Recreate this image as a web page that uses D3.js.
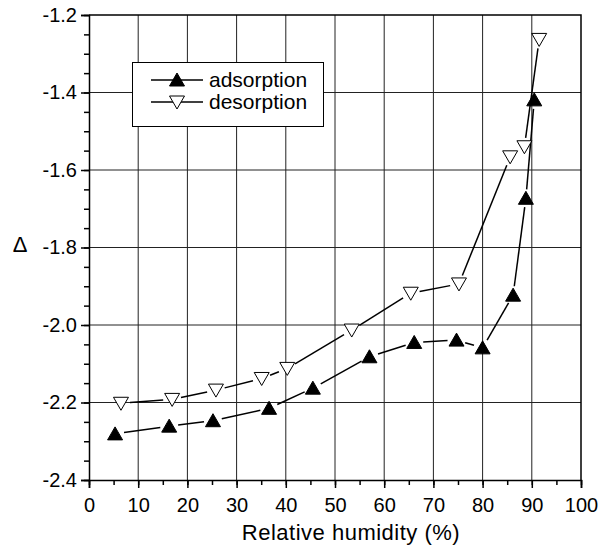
<!DOCTYPE html>
<html>
<head>
<meta charset="utf-8">
<script src="https://cdn.jsdelivr.net/npm/d3@7"></script>
<style>
  body { margin: 0; background: #fff; }
  text { font-family: "Liberation Sans", Arial, sans-serif; fill: #000; }
</style>
</head>
<body>
<div id="chart"></div>
<script>
// adsorption / desorption data
var adsX = [5.3, 16.3, 25.2, 36.6, 45.5, 57.0, 66.1, 74.7, 80.0, 86.2, 88.8, 90.5];
var adsY = [-2.281, -2.261, -2.247, -2.215, -2.163, -2.082, -2.045, -2.039, -2.059, -1.923, -1.673, -1.419];
var desX = [6.5, 16.9, 25.8, 35.1, 40.3, 53.4, 65.4, 75.2, 85.6, 88.5, 91.5];
var desY = [-2.202, -2.192, -2.168, -2.138, -2.112, -2.013, -1.918, -1.894, -1.566, -1.540, -1.263];
var xTicks = [0, 10, 20, 30, 40, 50, 60, 70, 80, 90, 100];
var yTicks = [-2.4, -2.2, -2.0, -1.8, -1.6, -1.4, -1.2];
var seriesNames = ["adsorption", "desorption"];

var width = 602, height = 549;
var margin = {left: 89, right: 21, top: 15, bottom: 69};

var svg = d3.select("#chart").append("svg")
  .attr("width", width)
  .attr("height", height);

var x = d3.scaleLinear().domain([0, 100]).range([margin.left, width - margin.right]);
var y = d3.scaleLinear().domain([-2.4, -1.2]).range([height - margin.bottom, margin.top]);

// grid
svg.append("g").selectAll("line.vx")
  .data(xTicks.slice(1, -1))
  .enter().append("line")
  .attr("x1", d => x(d)).attr("x2", d => x(d))
  .attr("y1", y(-2.4)).attr("y2", y(-1.2))
  .attr("stroke", "#222").attr("stroke-width", 1);
svg.append("g").selectAll("line.hy")
  .data(yTicks.slice(1, -1))
  .enter().append("line")
  .attr("y1", d => y(d)).attr("y2", d => y(d))
  .attr("x1", x(0)).attr("x2", x(100))
  .attr("stroke", "#222").attr("stroke-width", 1);

// axes
var xMinor = d3.range(0, 101, 5);
var yMinor = d3.range(-2.4, -1.19, 0.05);

svg.append("g")
  .attr("transform", "translate(0," + y(-2.4) + ")")
  .call(d3.axisBottom(x).tickValues(xTicks).tickSize(8).tickPadding(10).tickFormat(d3.format("d")));
svg.append("g")
  .attr("transform", "translate(0," + y(-2.4) + ")")
  .call(d3.axisBottom(x).tickValues(xMinor).tickSize(5).tickFormat(""))
  .select(".domain").remove();

svg.append("g")
  .attr("transform", "translate(" + x(0) + ",0)")
  .call(d3.axisLeft(y).tickValues(yTicks).tickSize(8).tickPadding(4).tickFormat(d3.format(".1f")));
svg.append("g")
  .attr("transform", "translate(" + x(0) + ",0)")
  .call(d3.axisLeft(y).tickValues(yMinor).tickSize(5).tickFormat(""))
  .select(".domain").remove();

svg.selectAll(".tick line").attr("stroke", "#000").attr("stroke-width", 1.5);
svg.selectAll(".domain").attr("stroke", "#000").attr("stroke-width", 1.5);
svg.selectAll(".tick text")
  .style("font-family", "'Liberation Sans', Arial, sans-serif")
  .style("font-size", "20px")
  .text(function(d) { return d3.select(this).text().replace("\u2212", "-"); });

// frame (top/right)
svg.append("path")
  .attr("d", "M" + x(0) + "," + y(-1.2) + "H" + x(100) + "V" + y(-2.4))
  .attr("fill", "none").attr("stroke", "#000").attr("stroke-width", 1.5);

// axis titles
svg.append("text")
  .attr("x", 351).attr("y", 540)
  .attr("text-anchor", "middle")
  .style("font-size", "22px")
  .style("letter-spacing", "0.5px")
  .text("Relative humidity (%)");
svg.append("text")
  .attr("x", 20).attr("y", 252)
  .attr("text-anchor", "middle")
  .style("font-size", "22px")
  .style("font-weight", "300")
  .text("\u0394");

// series lines with gaps near markers
function segLines(xs, ys, gap) {
  var segs = [];
  for (var i = 0; i < xs.length - 1; i++) {
    var x1 = x(xs[i]), y1 = y(ys[i]), x2 = x(xs[i + 1]), y2 = y(ys[i + 1]);
    var dx = x2 - x1, dy = y2 - y1, len = Math.sqrt(dx * dx + dy * dy);
    if (len <= 2 * gap) continue;
    var ux = dx / len, uy = dy / len;
    segs.push([x1 + ux * gap, y1 + uy * gap, x2 - ux * gap, y2 - uy * gap]);
  }
  return segs;
}

function drawSeries(xs, ys, filled) {
  var g = svg.append("g");
  g.selectAll("line")
    .data(segLines(xs, ys, 9))
    .enter().append("line")
    .attr("x1", d => d[0]).attr("y1", d => d[1])
    .attr("x2", d => d[2]).attr("y2", d => d[3])
    .attr("stroke", "#000").attr("stroke-width", 1.5);
  g.selectAll("path")
    .data(xs.map((d, i) => [d, ys[i]]))
    .enter().append("path")
    .attr("transform", d => "translate(" + x(d[0]) + "," + y(d[1]) + ")")
    .attr("d", filled ? "M0,-7L7.5,6L-7.5,6Z" : "M0,7L7.5,-6L-7.5,-6Z")
    .attr("fill", filled ? "#000" : "#fff")
    .attr("stroke", "#000").attr("stroke-width", 1);
}

drawSeries(adsX, adsY, true);
drawSeries(desX, desY, false);

// legend
var leg = svg.append("g");
leg.append("rect")
  .attr("x", 132.5).attr("y", 62.5).attr("width", 191).attr("height", 64)
  .attr("fill", "#fff").attr("stroke", "#000").attr("stroke-width", 1);
seriesNames.forEach(function(name, i) {
  var yy = 80 + i * 22;
  leg.append("line")
    .attr("x1", 151).attr("x2", 203).attr("y1", yy).attr("y2", yy)
    .attr("stroke", "#000").attr("stroke-width", 1.5);
  leg.append("path")
    .attr("transform", "translate(177," + yy + ")")
    .attr("d", i === 0 ? "M0,-7L7.5,6L-7.5,6Z" : "M0,7L7.5,-6L-7.5,-6Z")
    .attr("fill", i === 0 ? "#000" : "#fff")
    .attr("stroke", "#000").attr("stroke-width", 1);
  leg.append("text")
    .attr("x", 209).attr("y", yy + 7)
    .style("font-size", "21px")
    .text(name);
});
</script>
</body>
</html>
